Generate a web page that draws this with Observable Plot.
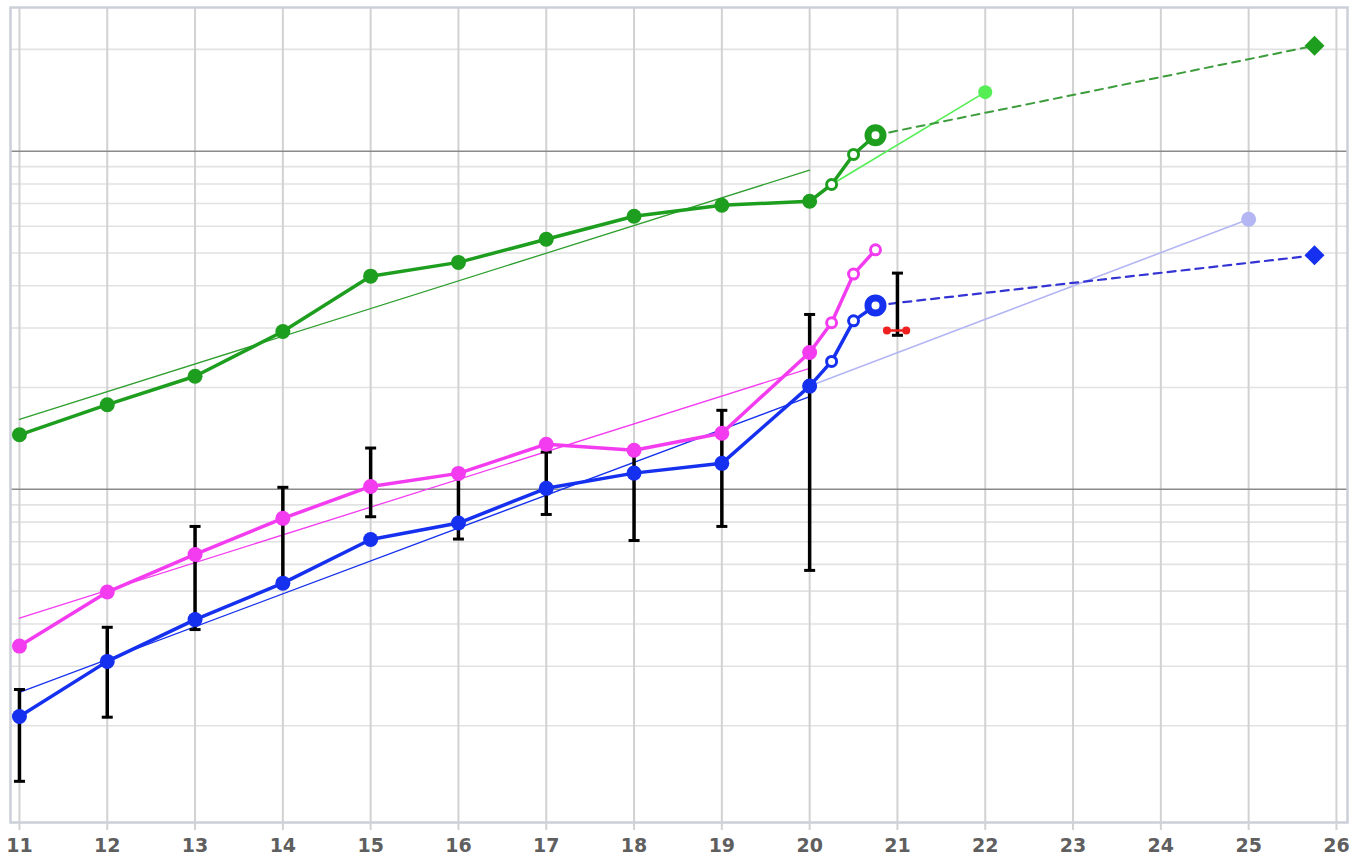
<!DOCTYPE html>
<html><head><meta charset="utf-8">
<script src="https://cdn.jsdelivr.net/npm/d3@7"></script>
<script src="https://cdn.jsdelivr.net/npm/@observablehq/plot@0.6"></script>
<style>html,body{margin:0;padding:0;background:#fff;} #chart{position:absolute;left:0;top:0;}</style>
</head><body><div id="chart"></div>
<script>
// ---- data ----
const xTicks = [11,12,13,14,15,16,17,18,19,20,21,22,23,24,25,26];
const years = [11,12,13,14,15,16,17,18,19,20];
const green   = [14.5, 17.8, 21.6, 29.3, 42.7, 46.9, 54.9, 64.2, 69.2, 71.1];
const magenta = [3.44, 4.97, 6.42, 8.21, 10.2, 11.15, 13.6, 13.05, 14.65, 25.4];
const blue    = [2.13, 3.10, 4.12, 5.28, 7.11, 7.95, 10.07, 11.17, 11.94, 20.2];
const projX = [20.25, 20.5, 20.75];
const greenProj   = [79.7, 97.8, 111.5];
const magentaProj = [31.1, 43.3, 51.1];
const blueProj    = [23.9, 31.5, 35.0];
const trendX = [11, 20];
const greenTrend   = [16.1, 87.9];
const magentaTrend = [4.16, 22.8];
const blueTrend    = [2.51, 18.8];
const targetX = [20.75, 25.75];
const greenTarget = [111.5, 205];
const blueTarget  = [35.0, 49.2];
const lightGreenX = [20.25, 22];
const lightGreenY = [79.7, 149.5];
const lavenderX = [20, 25];
const lavenderY = [20.2, 62.9];
const errX    = [11,12,13,14,15,16,17,18,19,20,21];
const errLow  = [1.37, 2.12, 3.85, 5.16, 8.30, 7.13, 8.43, 7.06, 7.77, 5.76, 28.55];
const errHigh = [2.56, 3.91, 7.77, 10.14, 13.25, 10.95, 12.89, 13.04, 17.13, 32.9, 43.6];
const redX = [20.88, 21.1];
const redY = [29.5, 29.5];
const minorGrid = [2,3,4,5,6,7,8,9,20,30,40,50,60,70,80,90,200];
const majorGrid = [10,100];

// ---- colours ----
const C = {
  green: "#1e9e1e", magenta: "#f33cf0", blue: "#1530ee",
  lightGreen: "#55ee55", lavender: "#b4b6f4",
  greenDash: "#3d9d3d", blueDash: "#3434d4", red: "#ee2020"
};

// ---- tables ----
const zip = (xs, ys) => xs.map((x, i) => ({x, y: ys[i]}));
const series = [
  {name: "green", color: C.green, main: zip(years, green), proj: zip(projX, greenProj), trend: zip(trendX, greenTrend)},
  {name: "magenta", color: C.magenta, main: zip(years, magenta), proj: zip(projX, magentaProj), trend: zip(trendX, magentaTrend)},
  {name: "blue", color: C.blue, main: zip(years, blue), proj: zip(projX, blueProj), trend: zip(trendX, blueTrend)}
];
const errRows = errX.map((x, i) => ({x, lo: errLow[i], hi: errHigh[i]}));
const capRows = errRows.flatMap(d => [{x: d.x, y: d.lo}, {x: d.x, y: d.hi}]);
const redRows = zip(redX, redY);

const capSymbol = {draw(ctx, size) { const w = Math.sqrt(size / Math.PI); ctx.moveTo(-w, 0); ctx.lineTo(w, 0); }};

const marks = [
  Plot.ruleY(minorGrid, {stroke: "#e2e2e2", strokeWidth: 1.6}),
  Plot.ruleX(xTicks, {stroke: "#d2d2d2", strokeWidth: 2}),
  Plot.ruleY(majorGrid, {stroke: "#8a8a8a", strokeWidth: 1.5}),
  Plot.frame({stroke: "#cbd0d8", strokeWidth: 2.5}),
  Plot.axisX(xTicks, {label: null, tickSize: 8, stroke: "#d2d2d2", strokeWidth: 2, fill: "#5f5f5f", fontSize: 19, fontWeight: 600, tickPadding: 8, tickFormat: d => String(d)}),
  // thin trend lines
  ...series.map(s => Plot.line(s.trend, {x: "x", y: "y", stroke: s.name === "green" ? "#2e9e2e" : s.color, strokeWidth: 1.3})),
  // light lines
  Plot.line(zip(lightGreenX, lightGreenY), {x: "x", y: "y", stroke: C.lightGreen, strokeWidth: 1.6}),
  Plot.dot(zip(lightGreenX, lightGreenY).slice(1), {x: "x", y: "y", r: 7, fill: C.lightGreen}),
  Plot.line(zip(lavenderX, lavenderY), {x: "x", y: "y", stroke: C.lavender, strokeWidth: 1.6}),
  Plot.dot(zip(lavenderX, lavenderY).slice(1), {x: "x", y: "y", r: 7.5, fill: C.lavender}),
  // dashed target lines
  Plot.line(zip(targetX, greenTarget), {x: "x", y: "y", stroke: C.greenDash, strokeWidth: 2, strokeDasharray: "8,6"}),
  Plot.dot(zip(targetX, greenTarget).slice(1), {x: "x", y: "y", symbol: "diamond2", r: 9, fill: C.green}),
  Plot.line(zip(targetX, blueTarget), {x: "x", y: "y", stroke: C.blueDash, strokeWidth: 2.2, strokeDasharray: "8,6"}),
  Plot.dot(zip(targetX, blueTarget).slice(1), {x: "x", y: "y", symbol: "diamond2", r: 9, fill: C.blue}),
  // error bars
  Plot.ruleX(errRows, {x: "x", y1: "lo", y2: "hi", stroke: "black", strokeWidth: 3.5}),
  Plot.dot(capRows, {x: "x", y: "y", symbol: capSymbol, r: 5.5, fill: "none", stroke: "black", strokeWidth: 3}),
  // red marker
  Plot.line(redRows, {x: "x", y: "y", stroke: C.red, strokeWidth: 2.5}),
  Plot.dot(redRows, {x: "x", y: "y", r: 4, fill: C.red}),
  // main series
  ...series.flatMap(s => [
    Plot.line([...s.main, ...s.proj], {x: "x", y: "y", stroke: s.color, strokeWidth: 3.5}),
    Plot.dot(s.main, {x: "x", y: "y", r: 7.5, fill: s.color}),
    Plot.dot(s.proj.slice(0, 2), {x: "x", y: "y", r: 5, fill: "white", stroke: s.color, strokeWidth: 3}),
    s.name === "magenta"
      ? Plot.dot(s.proj.slice(2), {x: "x", y: "y", r: 5, fill: "white", stroke: s.color, strokeWidth: 3})
      : Plot.dot(s.proj.slice(2), {x: "x", y: "y", r: 7.5, fill: "white", stroke: s.color, strokeWidth: 7})
  ])
];

const chart = Plot.plot({
  width: 1349, height: 860,
  marginLeft: 10, marginRight: 2, marginTop: 7, marginBottom: 38,
  style: {background: "#fff", fontFamily: "'DejaVu Sans', sans-serif"},
  x: {domain: [10.898, 26.126], axis: null},
  y: {type: "log", domain: [1.035, 266], axis: null},
  marks
});
document.getElementById("chart").appendChild(chart);
</script>
</body></html>
